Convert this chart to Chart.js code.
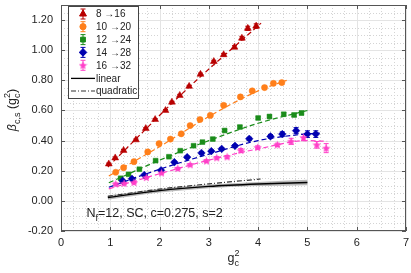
<!DOCTYPE html>
<html><head><meta charset="utf-8">
<script src="https://cdn.jsdelivr.net/npm/chart.js@4/dist/chart.umd.min.js"></script>
<style>html,body{margin:0;padding:0;background:#fff}</style>
</head><body>
<canvas id="c" width="411" height="273"></canvas>
<script>
// ---------- data ----------
const xTicks = [0, 1, 2, 3, 4, 5, 6, 7];
const yTicks = [-0.2, 0, 0.2, 0.4, 0.6, 0.8, 1.0, 1.2];
const seriesLabels = ['8 \u219216', '10 \u219220', '12 \u219224', '14 \u219228', '16 \u219232'];

const g2_8_16 = [0.97,1.10,1.27,1.52,1.72,1.91,2.12,2.25,2.41,2.60,2.83,3.10,3.30,3.52,3.67,3.79,3.96];
const b_8_16  = [0.245,0.285,0.335,0.405,0.48,0.54,0.60,0.655,0.70,0.76,0.84,0.925,0.97,1.02,1.08,1.145,1.16];
const e_8_16  = [0.006,0.006,0.006,0.006,0.006,0.006,0.006,0.006,0.007,0.007,0.008,0.008,0.009,0.01,0.012,0.014,0.015];

const g2_10_20 = [1.11,1.27,1.48,1.76,1.99,2.22,2.44,2.62,2.82,3.03,3.30,3.64,3.88,4.13,4.31,4.48];
const b_10_20  = [0.19,0.22,0.26,0.325,0.38,0.41,0.445,0.50,0.54,0.567,0.634,0.69,0.73,0.752,0.78,0.785];
const e_10_20  = [0.005,0.005,0.005,0.005,0.006,0.006,0.006,0.006,0.007,0.007,0.008,0.008,0.009,0.01,0.011,0.012];

const g2_12_24 = [1.21,1.37,1.59,1.92,2.19,2.42,2.69,2.87,3.08,3.32,3.63,4.00,4.23,4.52,4.73,4.88];
const b_12_24  = [0.15,0.176,0.21,0.267,0.293,0.333,0.366,0.39,0.41,0.467,0.49,0.55,0.56,0.575,0.57,0.583];
const e_12_24  = [0.005,0.005,0.005,0.005,0.005,0.006,0.006,0.006,0.007,0.007,0.008,0.008,0.009,0.01,0.011,0.012];

const g2_14_28 = [1.25,1.44,1.69,2.03,2.30,2.56,2.85,3.05,3.26,3.53,3.82,4.25,4.49,4.77,5.00,5.17];
const b_14_28  = [0.133,0.146,0.172,0.203,0.257,0.29,0.318,0.33,0.345,0.365,0.412,0.428,0.443,0.466,0.443,0.443];
const e_14_28  = [0.006,0.006,0.006,0.006,0.007,0.007,0.008,0.008,0.008,0.009,0.01,0.012,0.015,0.02,0.022,0.022];

const g2_16_32 = [1.11,1.28,1.48,1.73,2.04,2.37,2.62,2.95,3.16,3.37,3.65,3.99,4.39,4.67,4.92,5.19,5.38];
const b_16_32  = [0.112,0.116,0.122,0.155,0.185,0.215,0.24,0.265,0.286,0.292,0.335,0.355,0.372,0.395,0.42,0.372,0.35];
const e_16_32  = [0.006,0.006,0.006,0.006,0.007,0.007,0.007,0.008,0.008,0.009,0.012,0.01,0.011,0.02,0.02,0.022,0.03];

// fitted curves
const fitX_8_16  = [0.95,2.5,4.06];
const fitY_8_16  = [0.225,0.725,1.18];
const fitX_10_20 = [0.97,2,3,4,4.58];
const fitY_10_20 = [0.165,0.36,0.56,0.73,0.80];
const fitX_12_24 = [0.97,2,3,4,5];
const fitY_12_24 = [0.12,0.27,0.40,0.515,0.60];
const fitX_14_28 = [0.97,2,3,4,5,5.25];
const fitY_14_28 = [0.09,0.21,0.31,0.40,0.445,0.45];
const fitX_16_32 = [0.97,2,3,4,5,5.4];
const fitY_16_32 = [0.08,0.18,0.27,0.345,0.40,0.395];

// perturbative curves
const pertX    = [0.95,2,3,4,5];
const linearY  = [0.022,0.068,0.096,0.112,0.122];
const bandUpY  = [0.035,0.08,0.108,0.126,0.14];
const bandLoY  = [0.008,0.055,0.084,0.098,0.104];
const quadX    = [0.95,2,3,4.05];
const quadY    = [0.03,0.078,0.113,0.145];

// ---------- styling ----------
const colors = ['#b80000', '#ff7f1a', '#1a8c1a', '#0000b0', '#ff3fc8'];
const FONT = '"Liberation Sans", Arial, sans-serif';

function starCanvas(color) {
  const c = document.createElement('canvas');
  c.width = 9; c.height = 9;
  const g = c.getContext('2d');
  g.fillStyle = color;
  g.beginPath();
  for (let i = 0; i < 10; i++) {
    const r = i % 2 === 0 ? 4.4 : 2.0;
    const a = -Math.PI / 2 + i * Math.PI / 5;
    const px = 4.5 + r * Math.cos(a), py = 4.8 + r * Math.sin(a);
    i === 0 ? g.moveTo(px, py) : g.lineTo(px, py);
  }
  g.closePath(); g.fill();
  return c;
}
const starImg = starCanvas(colors[4]);
const pStyles = ['triangle', 'circle', 'rect', 'rectRot', starImg];
const pRadius = [4.0, 3.1, 3.4, 3.8, 4.5];

const series = [
  [g2_8_16, b_8_16, e_8_16, fitX_8_16, fitY_8_16],
  [g2_10_20, b_10_20, e_10_20, fitX_10_20, fitY_10_20],
  [g2_12_24, b_12_24, e_12_24, fitX_12_24, fitY_12_24],
  [g2_14_28, b_14_28, e_14_28, fitX_14_28, fitY_14_28],
  [g2_16_32, b_16_32, e_16_32, fitX_16_32, fitY_16_32]
];
const zip = (xs, ys) => xs.map((x, i) => ({x, y: ys[i]}));

const datasets = [];
datasets.push({label:'bandUp', data: zip(pertX, bandUpY), borderWidth:0, pointRadius:0, fill:false, backgroundColor:'rgba(140,140,140,0.6)', cubicInterpolationMode:'monotone', order:20});
datasets.push({label:'bandLo', data: zip(pertX, bandLoY), borderWidth:0, pointRadius:0, fill:'-1', backgroundColor:'rgba(140,140,140,0.6)', cubicInterpolationMode:'monotone', order:19});
datasets.push({label:'linear', data: zip(pertX, linearY), borderColor:'#000', borderWidth:1.4, pointRadius:0, cubicInterpolationMode:'monotone', order:18});
datasets.push({label:'quadratic', data: zip(quadX, quadY), borderColor:'#333', borderWidth:1.2, borderDash:[5,2,1,2], pointRadius:0, cubicInterpolationMode:'monotone', order:17});
series.forEach((s, i) => {
  datasets.push({label:'fit'+i, data: zip(s[3], s[4]), borderColor: colors[i], borderWidth:1.2, borderDash:[5,3], pointRadius:0, cubicInterpolationMode:'monotone', order:10 - i});
});
series.forEach((s, i) => {
  datasets.push({label: seriesLabels[i], data: zip(s[0], s[1]), showLine:false, pointStyle: pStyles[i], pointRadius: pRadius[i], backgroundColor: colors[i], borderColor: colors[i], borderWidth: 0.5, order: 5 - i});
});

// ---------- drawing helpers ----------
function drawErrBar(ctx, x, yTop, yBot, color) {
  ctx.strokeStyle = color; ctx.lineWidth = 1;
  ctx.beginPath();
  ctx.moveTo(x, yTop); ctx.lineTo(x, yBot);
  ctx.moveTo(x - 2.5, yTop); ctx.lineTo(x + 2.5, yTop);
  ctx.moveTo(x - 2.5, yBot); ctx.lineTo(x + 2.5, yBot);
  ctx.stroke();
}
function drawMarker(ctx, i, x, y) {
  Chart.helpers.drawPoint(ctx, {pointStyle: pStyles[i], radius: pRadius[i], borderWidth: 0.5}, x, y);
}
function drawRich(ctx, parts, x, y) {
  let cx = x;
  parts.forEach(p => {
    ctx.font = (p.italic ? 'italic ' : '') + p.size + 'px ' + FONT;
    ctx.fillText(p.t, cx, y + (p.dy || 0));
    const w = ctx.measureText(p.t).width;
    if (!p.stack) cx += w;
  });
  return cx - x;
}
function richWidth(ctx, parts) {
  let w = 0;
  parts.forEach(p => { ctx.font = (p.italic ? 'italic ' : '') + p.size + 'px ' + FONT; if (!p.stack) w += ctx.measureText(p.t).width; });
  return w;
}

const decor = {
  id: 'decor',
  beforeDatasetsDraw(chart) {
    const {ctx, chartArea: a, scales: {x: xs, y: ys}} = chart;
    ctx.save();
    ctx.strokeStyle = '#d4d4d4'; ctx.lineWidth = 1; ctx.setLineDash([1, 2]);
    ctx.beginPath();
    for (let k = 1; k < 28; k++) {
      if (k % 4 === 0) continue;
      const px = Math.round(xs.getPixelForValue(k * 0.25)) + 0.5;
      ctx.moveTo(px, a.top); ctx.lineTo(px, a.bottom);
    }
    for (let k = -3; k <= 26; k++) {
      const v = k * 0.05;
      if (k % 4 === 0 || v < -0.2 || v > 1.3) continue;
      const py = Math.round(ys.getPixelForValue(v)) + 0.5;
      ctx.moveTo(a.left, py); ctx.lineTo(a.right, py);
    }
    ctx.stroke();
    ctx.setLineDash([]); ctx.strokeStyle = '#e4e4e4';
    ctx.beginPath();
    xTicks.forEach(v => { const px = Math.round(xs.getPixelForValue(v)) + 0.5; ctx.moveTo(px, a.top); ctx.lineTo(px, a.bottom); });
    yTicks.forEach(v => { const py = Math.round(ys.getPixelForValue(v)) + 0.5; ctx.moveTo(a.left, py); ctx.lineTo(a.right, py); });
    ctx.stroke();
    series.forEach((s, i) => {
      s[0].forEach((xv, j) => {
        const px = xs.getPixelForValue(xv);
        drawErrBar(ctx, px, ys.getPixelForValue(s[1][j] + s[2][j]), ys.getPixelForValue(s[1][j] - s[2][j]), colors[i]);
      });
    });
    ctx.restore();
  },
  afterDatasetsDraw(chart) {
    const {ctx, chartArea: a, scales: {x: xs, y: ys}} = chart;
    ctx.save();
    ctx.strokeStyle = '#555'; ctx.lineWidth = 1;
    ctx.strokeRect(Math.round(a.left) + 0.5, Math.round(a.top) + 0.5, Math.round(a.right - a.left) - 1, Math.round(a.bottom - a.top) - 1);
    ctx.beginPath();
    xTicks.forEach(v => { const px = Math.round(xs.getPixelForValue(v)) + 0.5;
      ctx.moveTo(px, a.bottom); ctx.lineTo(px, a.bottom - 4); ctx.moveTo(px, a.top); ctx.lineTo(px, a.top + 4); });
    yTicks.forEach(v => { const py = Math.round(ys.getPixelForValue(v)) + 0.5;
      ctx.moveTo(a.left, py); ctx.lineTo(a.left + 4, py); ctx.moveTo(a.right, py); ctx.lineTo(a.right - 4, py); });
    ctx.stroke();

    // legend
    const lx = 68.5, ly = 6.5, lw = 70, lh = 92;
    ctx.fillStyle = '#fff'; ctx.fillRect(lx, ly, lw, lh);
    ctx.strokeStyle = '#444'; ctx.strokeRect(lx, ly, lw, lh);
    const rows = [14, 26.7, 39.6, 52.4, 65.3, 78.4, 91];
    ctx.textBaseline = 'middle'; ctx.textAlign = 'left';
    ctx.font = '10px ' + FONT;
    seriesLabels.forEach((lab, i) => {
      const y = rows[i];
      drawErrBar(ctx, 83, y - 5, y + 5, colors[i]);
      ctx.fillStyle = colors[i]; ctx.strokeStyle = colors[i];
      drawMarker(ctx, i, 83, y);
      ctx.fillStyle = '#222';
      ctx.fillText(lab, 96, y + 0.5);
    });
    ctx.strokeStyle = '#000'; ctx.lineWidth = 1.3; ctx.setLineDash([]);
    ctx.beginPath(); ctx.moveTo(71, rows[5]); ctx.lineTo(95, rows[5]); ctx.stroke();
    ctx.strokeStyle = '#333'; ctx.lineWidth = 1.1; ctx.setLineDash([5,2,1,2]);
    ctx.beginPath(); ctx.moveTo(71, rows[6]); ctx.lineTo(95, rows[6]); ctx.stroke();
    ctx.setLineDash([]);
    ctx.fillStyle = '#222';
    ctx.fillText('linear', 96, rows[5] + 0.5);
    ctx.fillText('quadratic', 96, rows[6] + 0.5);

    // annotation
    ctx.textBaseline = 'alphabetic';
    ctx.fillStyle = '#222';
    drawRich(ctx, [{t:'N', size:12.5}, {t:'f', size:9, dy:4}, {t:'=12, SC, c=0.275, s=2', size:12.5}], 86.5, 217);

    // x title
    const xParts = [{t:'g', size:12.5}, {t:'c', size:9, dy:4, stack:true}, {t:'2', size:9, dy:-6}];
    const xw = richWidth(ctx, xParts);
    drawRich(ctx, xParts, (a.left + a.right) / 2 - xw / 2, 262);

    // y title
    const yParts = [{t:'\u03B2', size:12.5, italic:true}, {t:'c,s', size:9, dy:4}, {t:' (g', size:12.5}, {t:'c', size:9, dy:4, stack:true}, {t:'2', size:9, dy:-6}, {t:')', size:12.5}];
    const yw = richWidth(ctx, yParts);
    ctx.translate(16, 110);
    ctx.rotate(-Math.PI / 2);
    drawRich(ctx, yParts, -yw / 2, 0);
    ctx.restore();
  }
};

new Chart(document.getElementById('c'), {
  type: 'line',
  data: { datasets },
  options: {
    responsive: false,
    animation: false,
    devicePixelRatio: 1,
    layout: { padding: { left: 0, right: 1.5, top: -5, bottom: 0 } },
    plugins: { legend: { display: false }, tooltip: { enabled: false } },
    scales: {
      x: {
        type: 'linear', min: 0, max: 7,
        afterBuildTicks: s => { s.ticks = xTicks.map(v => ({value: v})); },
        afterFit: s => { s.height = 42; s.paddingLeft = 0; s.paddingRight = 0; },
        grid: { display: false, drawTicks: false },
        border: { display: false },
        ticks: { padding: 5, color: '#222', font: { family: FONT, size: 11 }, callback: v => String(v) }
      },
      y: {
        type: 'linear', min: -0.2, max: 1.3,
        afterBuildTicks: s => { s.ticks = yTicks.map(v => ({value: v})); },
        afterFit: s => { s.width = 61; s.paddingTop = 0; s.paddingBottom = 0; },
        grid: { display: false, drawTicks: false },
        border: { display: false },
        ticks: { padding: 8, color: '#222', font: { family: FONT, size: 11 }, callback: v => Number(v).toFixed(2) }
      }
    }
  },
  plugins: [decor]
});
</script>
</body></html>
